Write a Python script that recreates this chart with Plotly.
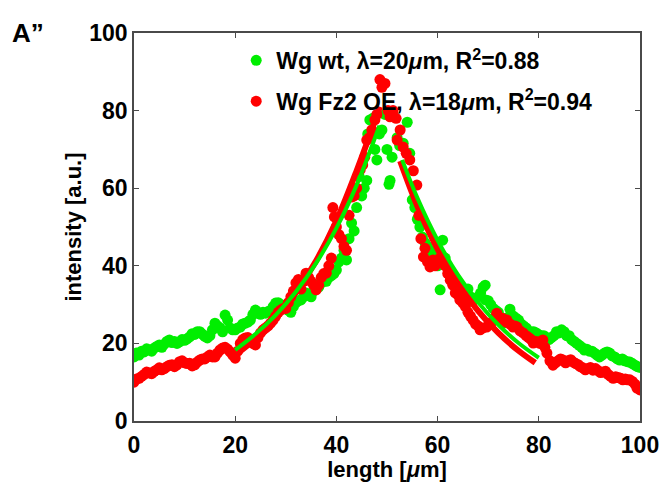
import plotly.graph_objects as go

# ---- scatter data: Wg wt (green) ----
green_x = [0, 0.5, 1, 1.5, 2, 2.5, 3, 3.5, 4, 4.5, 5, 5.5, 6, 6.5, 7, 7.5, 8, 8.5, 9, 9.5,
           10, 10.5, 11, 11.5, 12, 12.5, 13, 13.5, 14, 14.5, 15, 15.5, 16, 16.5, 17, 17.5, 18, 18.5, 19, 19.5,
           20, 20.5, 21, 21.5, 22, 22.5, 23, 23.5, 24, 24.5, 25, 25.5, 26, 26.5, 27, 27.5, 28, 28.5, 29, 29.5,
           30, 30.5, 31, 31.5, 32, 32.5, 33, 33.5, 34, 34.5, 35, 35.5, 36, 36.5, 37, 37.5, 38, 38.5, 39, 39.5,
           40, 40.5, 41, 41.5, 42, 42.5, 43, 43.5, 44, 44.5, 45, 45.5, 46, 46.2, 46.6, 47.2, 47.6, 48, 48.5, 49,
           49.6, 50, 50.4, 50.6, 51, 52, 52.5, 53.2, 54, 54.5, 55, 55.5, 56, 56.5, 57, 57.5, 58, 58.5, 59, 59.5,
           60, 60.5, 61, 61.5, 62, 62.5, 63, 63.5, 64, 64.5, 65, 65.5, 66, 66.5, 67, 67.5, 68, 68.5, 69, 69.4,
           69.5, 70, 70.5, 71, 71.5, 72, 72.5, 73, 73.5, 74.3, 74.5, 75, 75.5, 76, 76.5, 77, 77.5, 78, 78.5, 79,
           79.5, 80, 80.5, 81, 81.5, 82, 82.5, 83, 83.5, 84, 84.5, 85, 85.5, 86, 86.5, 87, 87.5, 88, 88.5, 89,
           89.5, 90, 90.5, 91, 91.5, 92, 92.5, 93, 93.5, 94, 94.5, 95, 95.5, 96, 96.5, 97, 97.5, 98, 98.5, 99,
           99.5, 100]
green_y = [16.5, 17.5, 17, 18, 17.8, 18.6, 18.3, 18, 18.8, 19.2, 19.6, 19, 19.8, 20.5, 20.9, 20.2, 20.5, 20, 20.4, 21,
           20.8, 21.2, 21.7, 22.5, 22.3, 23, 23, 22.4, 21.8, 21.4, 22, 23.5, 25.2, 24.5, 24, 23, 27.3, 26, 24, 23.5,
           23.5, 24, 24.2, 25, 25.2, 25.5, 26, 27.5, 28.6, 28, 27.5, 28, 27.8, 28.2, 28.5, 29.5, 30.4, 30.5, 30, 29.5,
           29, 28.5, 28, 29.5, 30.5, 31, 31.2, 32, 33, 32.5, 32, 33.5, 35, 34.5, 35.6, 36, 36, 37, 37.5, 38,
           38.9, 41, 42, 44, 41.5, 47, 51, 49, 55, 63, 58, 60, 62, 74, 77.6, 78, 70, 67.3, 74, 75,
           79, 70, 61, 62, 68, 73, 71, 71.6, 77, 69, 57, 55, 52, 50, 47.4, 46, 45, 44, 43, 42,
           40, 33.8, 46.6, 42, 40, 38, 37, 36, 35, 34, 33, 33.5, 34, 32, 31, 31.5, 32, 33, 34.5, 35,
           31.2, 31, 30, 29, 28.5, 28, 26.5, 25.2, 26.5, 28.8, 27.5, 27, 26.5, 26, 25, 24.5, 24, 22.7, 23, 23,
           22.7, 22.2, 22, 22, 21.5, 21, 21.5, 22, 23, 22.7, 23.5, 23, 22, 22, 21, 20.5, 20, 19.5, 19, 18.3,
           18.5, 18, 18, 17.5, 17, 16.5, 17, 17.5, 17.8, 17.5, 16.8, 16.5, 16, 15.7, 16, 15.5, 15.3, 15.2, 14.8, 14.4,
           14, 13.8]

# ---- scatter data: Wg Fz2 OE (red) ----
red_x = [0, 0.5, 1, 1.5, 2, 2.5, 3, 3.5, 4, 4.5, 5, 5.5, 6, 6.5, 7, 7.5, 8, 8.5, 9, 9.5,
         10, 10.5, 11, 11.5, 12, 12.5, 13, 13.5, 14, 14.5, 15, 15.5, 16, 16.5, 17, 17.5, 18, 18.5, 19, 19.5,
         20, 20.5, 21, 21.5, 22, 22.5, 23, 23.5, 24, 24.5, 25, 25.5, 26, 26.5, 27, 27.5, 28, 28.5, 29, 29.5,
         30, 30.5, 31, 31.5, 32, 32.5, 33, 33.5, 34, 34.5, 35, 35.5, 36, 36.5, 37, 37.5, 38, 38.5, 39, 39.3,
         39.6, 40, 40.5, 41, 41.5, 42, 42.5, 43, 43.5, 44, 44.7, 45.2, 45.6, 46, 46.5, 47, 47.6, 48, 48.6, 49,
         49.6, 50.2, 50.6, 51.2, 51.8, 52, 52.6, 53.2, 53.8, 54.5, 55.2, 55.9, 56.3, 56.7, 57.2, 57.5, 58, 58.5, 59.1, 59.5,
         60, 60.5, 61, 61.5, 62, 62.5, 63, 63.5, 64, 64.4, 65, 65.5, 66, 66.5, 67, 67.5, 68, 68.4, 69, 69.7,
         70.2, 70.7, 71.2, 71.7, 72.3, 72.8, 73.2, 73.7, 74.3, 74.9, 75.3, 75.7, 76.3, 76.9, 77.5, 78, 78.5, 78.9, 79.5, 80.2,
         80.8, 81.2, 81.6, 82.2, 82.8, 83.3, 83.8, 84.3, 84.8, 85.3, 85.8, 86.3, 86.8, 87.3, 87.8, 88.2, 88.7, 89.2, 89.7, 90.2,
         90.7, 91.2, 91.7, 92.2, 92.7, 93.2, 93.7, 94.2, 94.7, 95.2, 95.7, 96.2, 96.6, 97.1, 97.5, 98, 98.5, 99, 99.4, 100]
red_y = [10, 10.8, 11, 11.5, 12, 12.6, 12.4, 12.2, 12.8, 13.2, 13.7, 13.2, 13.5, 14, 14.4, 14.5, 14, 14.5, 15.3, 15.5,
         15, 14.8, 14.9, 14.2, 14.5, 15.2, 15.7, 16, 16, 16.5, 17, 16.5, 16.5, 17.5, 18.3, 18.8, 19, 18.5, 17.8, 17,
         16.2, 18, 20, 21, 21.4, 21.5, 21, 20, 19.6, 21.5, 22.7, 23.5, 24, 24.5, 25.2, 26, 27, 28, 28.6, 29,
         29, 30.5, 32, 33.5, 35.6, 36.5, 34, 36, 38.1, 37, 36, 35, 33.8, 35, 37, 38, 38.1, 40, 42, 55,
         52.6, 50, 48, 47, 45, 44, 53, 57.7, 58, 60, 64.7, 66, 68, 72.4, 73, 75, 77.6, 79, 88, 86,
         87, 80, 78.4, 80, 78, 72.4, 75, 70.6, 69, 67.3, 64.5, 60.8, 53, 47, 42.3, 44.5, 41, 39.7, 41.5, 40,
         41, 42, 42.3, 40, 38, 36.3, 35, 33, 32.5, 31.2, 30.4, 29.5, 28, 27, 26, 25, 24.5, 23.5, 24, 24.2,
         25, 25.5, 26.5, 27.8, 26, 26.5, 25.5, 26, 25, 24.2, 24.5, 24.2, 23.2, 22.7, 22, 21.5, 21, 20.1, 20.5, 20,
         20.9, 19, 17.5, 15.5, 14.4, 15, 15.5, 16, 15.7, 15, 15.5, 15.8, 15.2, 14.8, 14.5, 14, 13.7, 13.2, 13.5, 13.8,
         13.1, 13.5, 13, 12.5, 12.6, 12.8, 12, 11.5, 11, 11.4, 11.2, 11, 10.6, 10.8, 10.6, 10.6, 10.2, 9.5, 8.5, 8]

# ---- fitted decay curves ----
green_fit_left_x = [20, 24, 28, 32, 36, 40, 44, 48.5]
green_fit_left_y = [18.3, 22.4, 27.3, 33.3, 40.7, 49.7, 60.8, 76.1]
green_fit_right_x = [53, 56, 60, 64, 68, 72, 76, 80]
green_fit_right_y = [67.3, 57.5, 46.6, 37.7, 30.6, 24.8, 20.1, 16.3]
red_fit_left_x = [20, 24, 28, 32, 36, 40, 44, 48.6]
red_fit_left_y = [17, 21.2, 26.5, 33.1, 41.3, 51.6, 64.5, 81]
red_fit_right_x = [52.6, 56, 60, 64, 68, 72, 76, 79.3]
red_fit_right_y = [67, 55.4, 44.3, 35.4, 28.4, 22.7, 18.1, 15]

tick_vals = [0, 20, 40, 60, 80, 100]
tick_text = ["0", "20", "40", "60", "80", "100"]

GREEN = "#00ee00"
RED = "#ff0000"
FONT = "Liberation Sans, Arial, Helvetica, sans-serif"

fig = go.Figure()
fig.add_trace(go.Scatter(x=green_x, y=green_y, mode="markers", legendgroup="g",
                         name="<b>Wg wt, λ=20<i>μ</i>m, R<sup>2</sup>=0.88</b>",
                         marker=dict(color=GREEN, size=11, line=dict(width=0))))
fig.add_trace(go.Scatter(x=red_x, y=red_y, mode="markers", legendgroup="r",
                         name="<b>Wg Fz2 OE, λ=18<i>μ</i>m, R<sup>2</sup>=0.94</b>",
                         marker=dict(color=RED, size=11, line=dict(width=0))))
for fx, fy in [(red_fit_left_x, red_fit_left_y), (red_fit_right_x, red_fit_right_y)]:
    fig.add_trace(go.Scatter(x=fx, y=fy, mode="lines", showlegend=False, hoverinfo="skip",
                             line=dict(color=RED, width=6, shape="spline")))
for fx, fy in [(green_fit_left_x, green_fit_left_y), (green_fit_right_x, green_fit_right_y)]:
    fig.add_trace(go.Scatter(x=fx, y=fy, mode="lines", showlegend=False, hoverinfo="skip",
                             line=dict(color=GREEN, width=4, shape="spline")))

axis_common = dict(
    showgrid=False, zeroline=False, showline=True, linecolor="#4a4a4a", linewidth=1.5,
    mirror="ticks", ticks="inside", ticklen=5, tickcolor="#4a4a4a", tickwidth=1,
    tickvals=tick_vals, ticktext=tick_text, automargin=False,
    tickfont=dict(family=FONT, size=23, color="black", weight="bold"),
)
fig.update_xaxes(range=[0, 100], **axis_common, ticklabelstandoff=3,
                 title=dict(text="<b>length [<i>μ</i>m]</b>", font=dict(family=FONT, size=22, color="black"),
                            standoff=0))
fig.update_yaxes(range=[0, 100], **axis_common,
                 title=dict(text="<b>intensity [a.u.]</b>", font=dict(family=FONT, size=22, color="black"),
                            standoff=2))

fig.add_annotation(text="<b>A”</b>", xref="paper", yref="paper", x=-0.245, y=1.0,
                   xanchor="left", yanchor="middle", showarrow=False,
                   font=dict(family=FONT, size=26, color="black"))

fig.update_layout(
    width=661, height=482,
    margin=dict(l=134, r=21, t=33, b=61),
    paper_bgcolor="white", plot_bgcolor="white",
    font=dict(family=FONT, color="black"),
    showlegend=True,
    legend=dict(x=0.202, y=0.985, xanchor="left", yanchor="top", bgcolor="rgba(0,0,0,0)",
                font=dict(family=FONT, size=23, color="black"), tracegroupgap=8,
                itemwidth=30),
)

fig.write_html("out.html", config={"displayModeBar": False},
               post_script="document.body.style.margin='0px';document.body.style.overflow='hidden';")
